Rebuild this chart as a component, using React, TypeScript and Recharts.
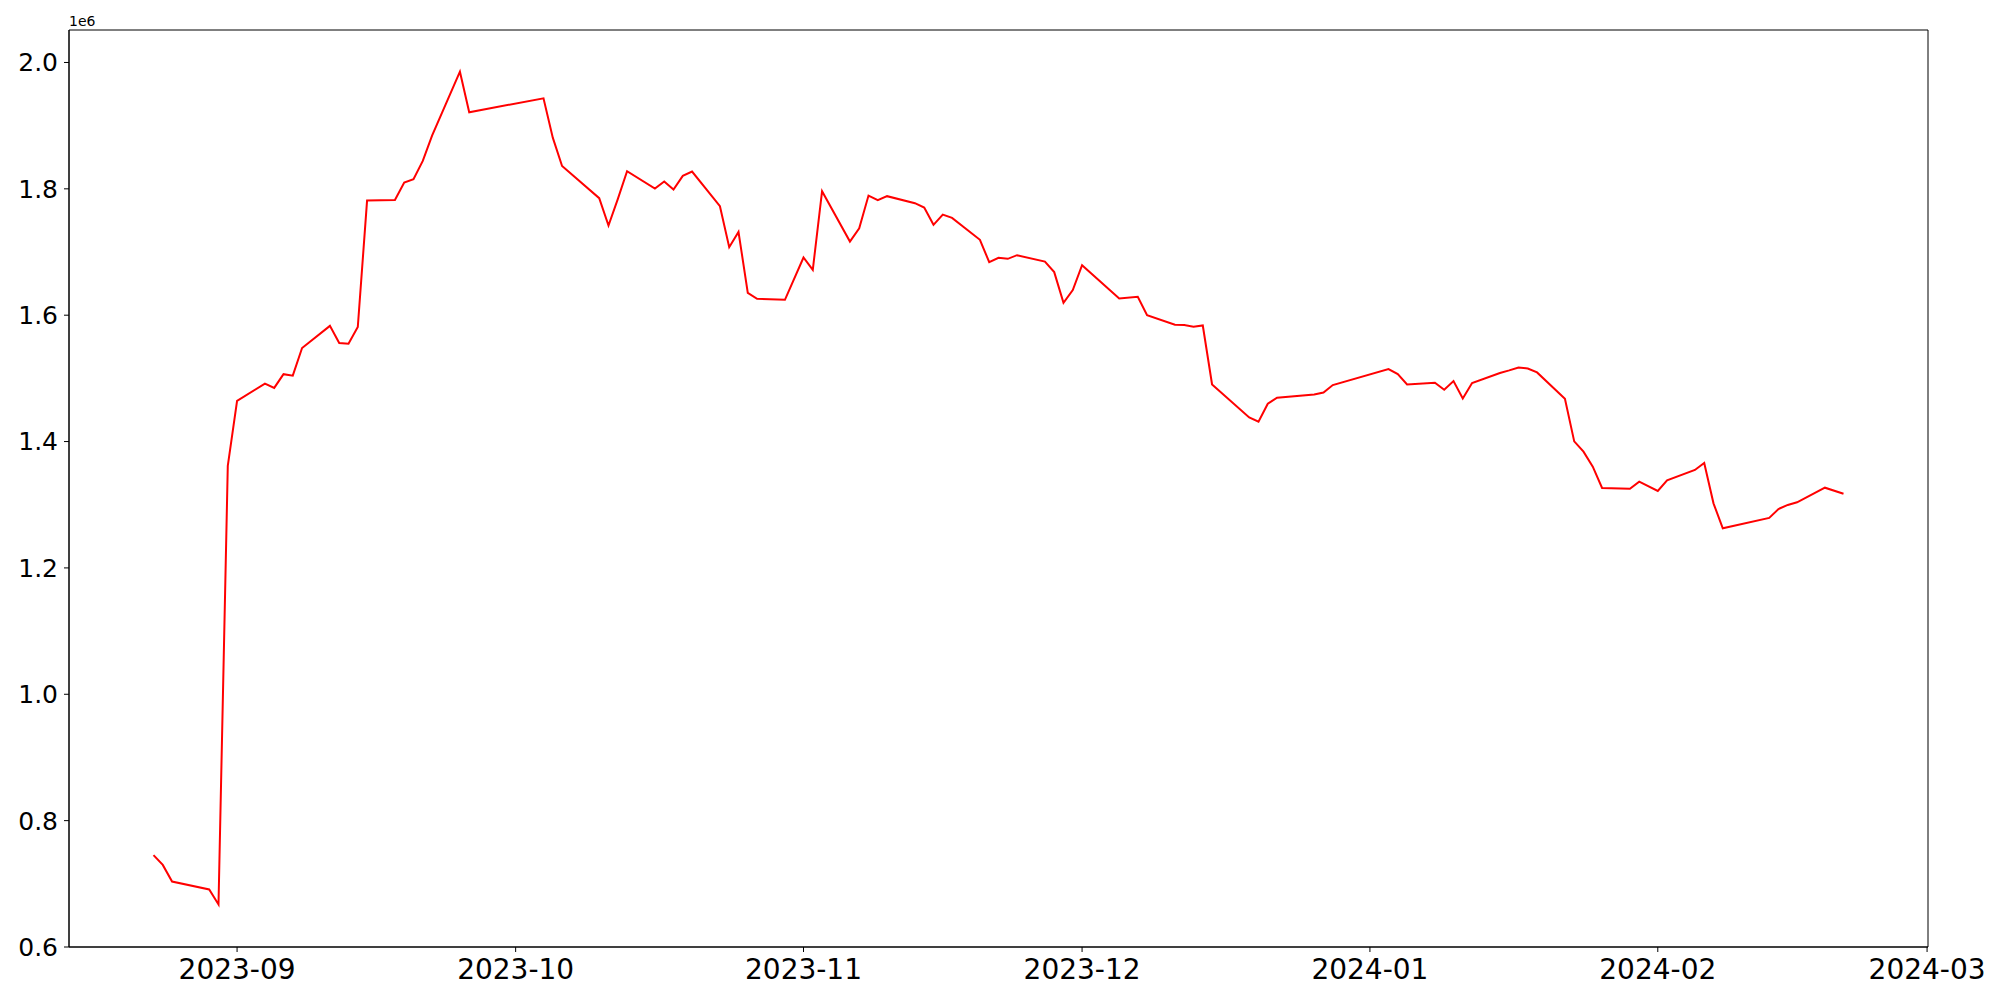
import React from 'react';
import { LineChart, Line, XAxis, YAxis, ReferenceArea } from 'recharts';

const dates = [
  '2023-08-23', '2023-08-24', '2023-08-25', '2023-08-29', '2023-08-30', '2023-08-31',
  '2023-09-01', '2023-09-04', '2023-09-05', '2023-09-06', '2023-09-07', '2023-09-08',
  '2023-09-11', '2023-09-12', '2023-09-13', '2023-09-14', '2023-09-15', '2023-09-18',
  '2023-09-19', '2023-09-20', '2023-09-21', '2023-09-22', '2023-09-25', '2023-09-26',
  '2023-10-04', '2023-10-05', '2023-10-06', '2023-10-10', '2023-10-11', '2023-10-12',
  '2023-10-13', '2023-10-16', '2023-10-17', '2023-10-18', '2023-10-19', '2023-10-20',
  '2023-10-23', '2023-10-24', '2023-10-25', '2023-10-26', '2023-10-27', '2023-10-30',
  '2023-11-01', '2023-11-02', '2023-11-03', '2023-11-06', '2023-11-07', '2023-11-08',
  '2023-11-09', '2023-11-10', '2023-11-13', '2023-11-14', '2023-11-15', '2023-11-16',
  '2023-11-17', '2023-11-20', '2023-11-21', '2023-11-22', '2023-11-23', '2023-11-24',
  '2023-11-27', '2023-11-28', '2023-11-29', '2023-11-30', '2023-12-01', '2023-12-05',
  '2023-12-07', '2023-12-08', '2023-12-11', '2023-12-12', '2023-12-13', '2023-12-14',
  '2023-12-15', '2023-12-19', '2023-12-20', '2023-12-21', '2023-12-22', '2023-12-26',
  '2023-12-27', '2023-12-28', '2024-01-03', '2024-01-04', '2024-01-05', '2024-01-08',
  '2024-01-09', '2024-01-10', '2024-01-11', '2024-01-12', '2024-01-15', '2024-01-16',
  '2024-01-17', '2024-01-18', '2024-01-19', '2024-01-22', '2024-01-23', '2024-01-24',
  '2024-01-25', '2024-01-26', '2024-01-29', '2024-01-30', '2024-02-01', '2024-02-02',
  '2024-02-05', '2024-02-06', '2024-02-07', '2024-02-08', '2024-02-13', '2024-02-14',
  '2024-02-15', '2024-02-16', '2024-02-19', '2024-02-21',
];

// values in units of 1e6
const values = [
  0.7455, 0.7299, 0.7036, 0.6910, 0.6674, 1.3617,
  1.4643, 1.4918, 1.4849, 1.5067, 1.5043, 1.5480,
  1.5831, 1.5559, 1.5548, 1.5812, 1.7814, 1.7825,
  1.8099, 1.8152, 1.8442, 1.8842, 1.9854, 1.9212,
  1.9433, 1.8810, 1.8362, 1.7852, 1.7419, 1.7836,
  1.8279, 1.8004, 1.8115, 1.7988, 1.8205, 1.8273,
  1.7725, 1.7077, 1.7319, 1.6354, 1.6259, 1.6243,
  1.6913, 1.6718, 1.7962, 1.7166, 1.7377, 1.7893,
  1.7820, 1.7884, 1.7773, 1.7703, 1.7430, 1.7593,
  1.7540, 1.7193, 1.6840, 1.6908, 1.6892, 1.6950,
  1.6849, 1.6682, 1.6196, 1.6397, 1.6792, 1.6264,
  1.6291, 1.6001, 1.5848, 1.5843, 1.5817, 1.5837,
  1.4904, 1.4382, 1.4314, 1.4599, 1.4694, 1.4746,
  1.4777, 1.4894, 1.5148, 1.5068, 1.4904, 1.4931,
  1.4820, 1.4958, 1.4683, 1.4926, 1.5084, 1.5126,
  1.5173, 1.5157, 1.5094, 1.4678, 1.4003, 1.3840,
  1.3603, 1.3266, 1.3254, 1.3365, 1.3218, 1.3386,
  1.3550, 1.3661, 1.3022, 1.2627, 1.2791, 1.2933,
  1.2997, 1.3038, 1.3270, 1.3175,
];

const monthTicks = ['2023-09', '2023-10', '2023-11', '2023-12', '2024-01', '2024-02', '2024-03'];
const yTicks = [0.6, 0.8, 1.0, 1.2, 1.4, 1.6, 1.8, 2.0];

const toTime = (s: string) => {
  const [y, m, d] = s.split('-').map(Number);
  return Date.UTC(y, m - 1, d || 1);
};

const data = dates.map((d, i) => ({ t: toTime(d), v: values[i] * 1e6 }));

// matplotlib-style 5% margins on x
const tFirst = data[0].t;
const tLast = data[data.length - 1].t;
const xMin = tFirst - 0.05 * (tLast - tFirst);
const xMax = tLast + 0.05 * (tLast - tFirst);
const yMin = 600000;
const yMax = 2051400;

const fmtMonth = (t: number) => {
  const d = new Date(t);
  return `${d.getUTCFullYear()}-${String(d.getUTCMonth() + 1).padStart(2, '0')}`;
};

const font = '"DejaVu Sans", sans-serif';

export default function App() {
  return (
    <div style={{ position: 'absolute', left: 0, top: 0, width: 2000, height: 1000, background: '#fff' }}>
      <LineChart
        width={2000}
        height={1000}
        data={data}
        margin={{ top: 30, right: 72, left: 0, bottom: 0 }}
      >
        <XAxis
          dataKey="t"
          type="number"
          domain={[xMin, xMax]}
          ticks={monthTicks.map(toTime)}
          tickFormatter={fmtMonth}
          height={53}
          tickSize={5}
          tickMargin={7}
          axisLine={{ stroke: '#000' }}
          tickLine={{ stroke: '#000' }}
          tick={{ fill: '#000', fontSize: 28, fontFamily: font }}
          allowDataOverflow
        />
        <YAxis
          type="number"
          domain={[yMin, yMax]}
          ticks={yTicks.map(v => v * 1e6)}
          tickFormatter={(v: number) => (v / 1e6).toFixed(1)}
          width={69}
          tickSize={5}
          tickMargin={6}
          axisLine={{ stroke: '#000' }}
          tickLine={{ stroke: '#000' }}
          tick={{ fill: '#000', fontSize: 25, fontFamily: font }}
          allowDataOverflow
        />
        <ReferenceArea
          x1={xMin}
          x2={xMax}
          y1={yMin}
          y2={yMax}
          fill="none"
          stroke="#000"
          strokeWidth={1}
          ifOverflow="visible"
        />
        <Line
          type="linear"
          dataKey="v"
          stroke="#ff0000"
          strokeWidth={2}
          dot={false}
          isAnimationActive={false}
        />
      </LineChart>
      <svg width={200} height={30} style={{ position: 'absolute', left: 0, top: 0 }}>
        <text x={69} y={26} fontSize={14} fontFamily={font} fill="#000">1e6</text>
      </svg>
    </div>
  );
}
